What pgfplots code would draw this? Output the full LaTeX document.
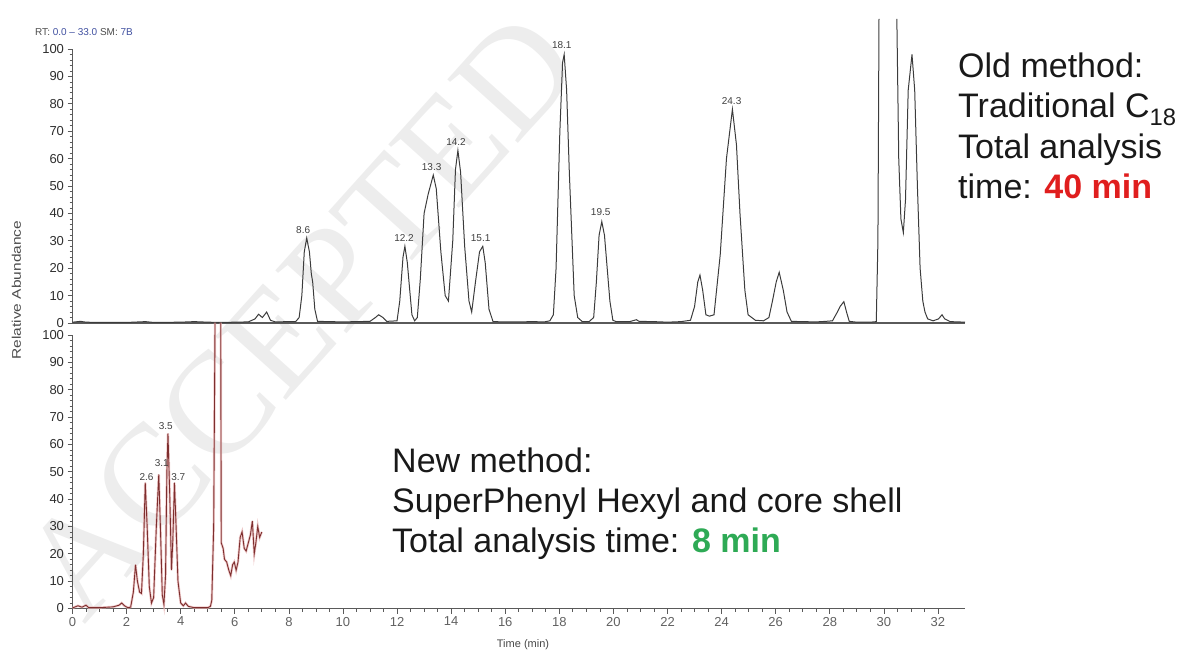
\documentclass[border=0pt]{standalone}
\usepackage{fontspec}
\setmainfont{Liberation Sans}
\newfontfamily\serifwm{Liberation Serif}
\usepackage{pgfplots}
\pgfplotsset{compat=1.18}
\definecolor{axisgray}{HTML}{5A5A5A}
\definecolor{trace}{HTML}{3C3C3C}
\definecolor{newtrace}{HTML}{7E2E2E}
\definecolor{newhalo}{HTML}{E7B3B3}
\definecolor{oldred}{HTML}{E01E1E}
\definecolor{newgreen}{HTML}{2EAA55}
\definecolor{rtblue}{HTML}{4050A0}
\pgfplotsset{chrom/.style={
  scale only axis, width=892.5pt,
  xmin=0, xmax=33, ymin=0, ymax=100,
  axis x line=bottom, axis y line=left,
  axis line style={-, axisgray, line width=1.3pt},
  tick align=outside, major tick length=5pt, minor tick length=3pt,
  ytick={0,10,...,100}, minor y tick num=4,
  tick style={axisgray, line width=0.7pt},
  yticklabel style={font=\fontsize{13}{13}\selectfont, text=black!82},
  xticklabel style={font=\fontsize{13}{13}\selectfont, text=black!62, anchor=north},
  /pgf/number format/assume math mode=true,
  clip=false,
}}
\pgfplotstableread{
x y
0 0.3
0.3 0.6
0.5 0.3
1 0.2
2 0.2
2.7 0.5
3 0.2
4 0.3
4.5 0.5
5 0.3
5.5 0.2
6 0.3
6.5 0.4
6.75 1.5
6.88 3.2
7.02 2.0
7.18 4
7.32 1
7.5 0.4
8 0.5
8.25 0.5
8.38 2
8.48 10
8.57 26
8.66 31
8.76 26
8.83 18
8.88 15
8.96 5
9.06 0.6
9.5 0.5
10 0.4
10.5 0.5
11 0.6
11.2 2
11.32 3
11.48 2
11.62 0.6
12 0.8
12.1 8
12.22 24
12.29 28
12.38 22
12.46 13
12.55 3
12.65 0.8
12.75 2
12.86 16
13.0 40
13.15 47
13.34 54
13.45 49
13.62 26
13.78 10
13.9 8
14.06 30
14.16 56
14.25 63
14.35 55
14.5 28
14.66 8
14.76 4
14.9 15
15.05 26
15.17 28
15.26 22
15.4 5
15.55 0.5
16 0.4
16.5 0.4
17 0.5
17.45 0.4
17.65 0.8
17.78 3
17.88 20
18.02 70
18.12 95
18.18 98
18.27 85
18.37 55
18.55 10
18.68 2
18.85 0.5
19.1 0.5
19.27 2
19.37 15
19.47 32
19.57 37
19.67 32
19.77 20
19.87 8
19.98 1
20.1 0.5
20.6 0.5
20.85 1.2
20.95 0.6
21.5 0.5
22 0.3
22.5 0.5
22.85 1
23.0 6
23.12 15
23.2 17.5
23.3 12
23.42 3
23.55 2.5
23.72 3
23.95 25
24.18 60
24.4 78
24.55 65
24.68 40
24.86 12
24.98 3
25.25 1
25.55 0.8
25.75 2
25.88 8
26.02 15
26.13 18.5
26.28 12
26.42 4
26.58 0.6
27 0.5
27.5 0.4
27.85 0.6
28.1 0.8
28.28 4
28.38 6
28.52 7.8
28.62 4
28.72 0.6
29 0.3
29.5 0.3
29.72 0.5
29.78 30
29.82 111
}\oldA
\pgfplotstableread{
x y
30.48 111
30.55 60
30.63 38
30.72 33
30.8 45
30.9 85
31.04 98
31.14 85
31.24 50
31.34 20
31.44 8
31.52 4
31.62 1.5
31.82 0.8
32.02 1.5
32.15 3
32.25 1.5
32.45 0.5
32.75 0.4
33 0.3
}\oldB
\pgfplotstableread{
x y
0 0.2
0.2 1
0.35 0.5
0.5 1.2
0.6 0.3
1 0.3
1.5 0.6
1.72 1.2
1.82 2
1.92 1
2.05 0.3
2.15 0.5
2.25 6
2.33 16
2.4 10
2.48 6
2.55 5.5
2.62 20
2.69 46
2.76 30
2.84 8
2.92 2
3.0 4
3.1 30
3.19 49
3.25 30
3.32 5
3.38 1.5
3.44 12
3.49 50
3.53 64
3.6 40
3.66 14
3.71 25
3.77 46
3.83 30
3.9 10
4.0 2
4.1 1
4.18 2
4.28 0.8
4.5 0.3
5 0.3
5.1 0.8
5.15 3
5.22 30
5.27 104.5
}\newA
\pgfplotstableread{
x y
5.48 104.5
5.5 24
5.57 22
5.62 18
5.7 17
5.78 14
5.85 12
5.92 16
5.98 17
6.05 14
6.12 17
6.2 26
6.27 28
6.35 22
6.42 21
6.5 24
6.58 27
6.65 32
6.72 20
6.78 24
6.85 30
6.92 26
7.0 28
}\newB
\begin{document}
\begin{tikzpicture}
\path[use as bounding box] (0,0) rectangle (1184pt,-653pt);
\node[rotate=48, text=black!7, font=\serifwm\fontsize{145}{145}\selectfont] at (300pt,-315pt) {ACCEPTED};

% ---- old method (top) ----
\begin{axis}[chrom, at={(72.5pt,-323pt)}, anchor=south west, height=274pt, xtick=\empty]
\addplot[trace, line width=1.0pt] table {\oldA};
\addplot[trace, line width=1.0pt] table {\oldB};
\begin{scope}[every node/.style={font=\fontsize{10}{10}\selectfont, text=black!75, inner sep=0pt}]
\node at (axis cs:8.53,33.9) {8.6};
\node at (axis cs:12.26,31.0) {12.2};
\node at (axis cs:13.28,57.0) {13.3};
\node at (axis cs:14.18,66.2) {14.2};
\node at (axis cs:15.09,31.1) {15.1};
\node at (axis cs:18.09,101.5) {18.1};
\node at (axis cs:19.53,40.6) {19.5};
\node at (axis cs:24.37,81.1) {24.3};
\end{scope}
\end{axis}

% ---- new method (bottom) ----
\begin{axis}[chrom, at={(72.5pt,-608.5pt)}, anchor=south west, height=273.5pt,
  xtick={0,2,...,32}, minor x tick num=3]
\addplot[newhalo, line width=2.4pt, opacity=0.7] table {\newA};
\addplot[newhalo, line width=2.4pt, opacity=0.7] table {\newB};
\addplot[newtrace, line width=0.9pt] table {\newA};
\addplot[newtrace, line width=0.9pt] table {\newB};
\begin{scope}[every node/.style={font=\fontsize{10}{10}\selectfont, text=black!75, inner sep=0pt}]
\node at (axis cs:2.74,48.2) {2.6};
\node at (axis cs:3.30,53.3) {3.1};
\node at (axis cs:3.45,66.7) {3.5};
\node at (axis cs:3.91,48.2) {3.7};
\end{scope}
\end{axis}

% ---- texts ----
\node[anchor=west, font=\fontsize{10}{10}\selectfont, text=black!70, inner sep=0pt] at (35pt,-32pt)
  {RT: {\color{rtblue}0.0 -- 33.0} SM: {\color{rtblue}7B}};
\node[rotate=90, font=\fontsize{12.5}{12.5}\selectfont, text=black!70, inner sep=0pt] at (16.5pt,-290pt)
  {\scalebox{1.24}[1]{Relative Abundance}};
\node[font=\fontsize{11}{11}\selectfont, text=black!72, inner sep=0pt] at (523pt,-645pt) {Time (min)};

\begin{scope}[every node/.style={anchor=base west, inner sep=0pt, font=\fontsize{34}{40}\selectfont, text=black!90}]
\node at (958pt,-77.5pt) {Old method:};
\node at (958pt,-117.8pt) {Traditional C\textsubscript{18}};
\node at (958pt,-158pt) {Total analysis};
\node at (958pt,-198pt) {time: {\bfseries\color{oldred}40 min}};
\node at (392pt,-472pt) {New method:};
\node at (392pt,-512pt) {SuperPhenyl Hexyl and core shell};
\node at (392pt,-552pt) {Total analysis time: {\bfseries\color{newgreen}8 min}};
\end{scope}
\end{tikzpicture}
\end{document}
